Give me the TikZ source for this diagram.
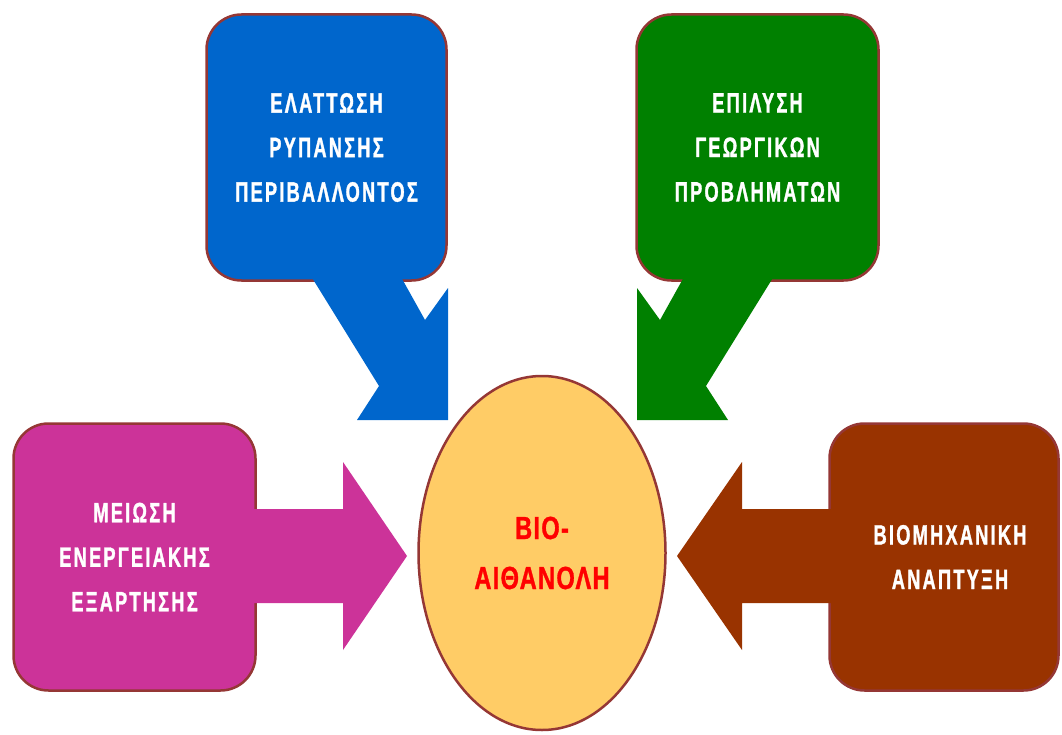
\documentclass[tikz,border=0pt]{standalone}
\usepackage{fontspec}
\usetikzlibrary{shapes.geometric}
% condensed, letter-spaced bold caps for the boxes and the hub
\newfontfamily\boxfont[UprightFont={Liberation Sans Bold},FakeStretch=0.65,LetterSpace=8,FakeBold=1.2]{Liberation Sans Bold}
\newfontfamily\hubfont[UprightFont={Liberation Sans Bold},FakeStretch=0.74,LetterSpace=4,FakeBold=1]{Liberation Sans Bold}
\definecolor{rim}{HTML}{953735}
\definecolor{cblue}{HTML}{0066CC}
\definecolor{cgreen}{HTML}{008000}
\definecolor{cmagenta}{HTML}{CC3399}
\definecolor{cbrown}{HTML}{993300}
\definecolor{chub}{HTML}{FFCC66}
\begin{document}
\begin{tikzpicture}[x=1pt,y=-1pt,
  card/.style={draw=rim, line width=2.5pt, rounded corners=35pt,
    text=white, align=center, inner sep=0pt,
    font=\boxfont\fontsize{28}{44.5}\selectfont},
  hub/.style={ellipse, draw=rim, line width=2.5pt, fill=chub,
    text=red, align=center, inner sep=0pt,
    font=\hubfont\fontsize{32}{50}\selectfont},
]
\useasboundingbox (0,0) rectangle (1062,735);

% boxes
\node[card, fill=cblue, minimum width=240pt, minimum height=266pt] (pollution) at (326.5,147.5)
  {ΕΛΑΤΤΩΣΗ\\ΡΥΠΑΝΣΗΣ\\ΠΕΡΙΒΑΛΛΟΝΤΟΣ};
\node[card, fill=cgreen, minimum width=242pt, minimum height=266pt] (farming) at (757.5,147.5)
  {ΕΠΙΛΥΣΗ\\ΓΕΩΡΓΙΚΩΝ\\ΠΡΟΒΛΗΜΑΤΩΝ};
\node[card, fill=cmagenta, minimum width=242pt, minimum height=267pt] (energy) at (134.5,557)
  {ΜΕΙΩΣΗ\\ΕΝΕΡΓΕΙΑΚΗΣ\\ΕΞΑΡΤΗΣΗΣ};
\node[card, fill=cbrown, minimum width=229pt, minimum height=267pt] (industry) at (944,557)
  {\hspace*{12pt}ΒΙΟΜΗΧΑΝΙΚΗ\\\hspace*{12pt}ΑΝΑΠΤΥΞΗ};

% block arrows from the boxes towards the hub
\fill[cblue] (306,268) -- (379,386) -- (357,420) -- (448,420) -- (448,288)
  -- (425,320) -- (396,268) -- cycle;
\fill[cgreen] (779,268) -- (706,386) -- (728,420) -- (637,420) -- (637,288)
  -- (660,320) -- (689,268) -- cycle;
\fill[cmagenta] (250,509) -- (343,509) -- (343,462) -- (407,556) -- (343,650)
  -- (343,603) -- (250,603) -- cycle;
\fill[cbrown] (835,509) -- (742,509) -- (742,462) -- (677,556) -- (742,650)
  -- (742,603) -- (835,603) -- cycle;

% hub
\node[hub, minimum width=247pt, minimum height=354pt] (bio) at (542,553)
  {ΒΙΟ-\\ΑΙΘΑΝΟΛΗ};
\end{tikzpicture}
\end{document}
